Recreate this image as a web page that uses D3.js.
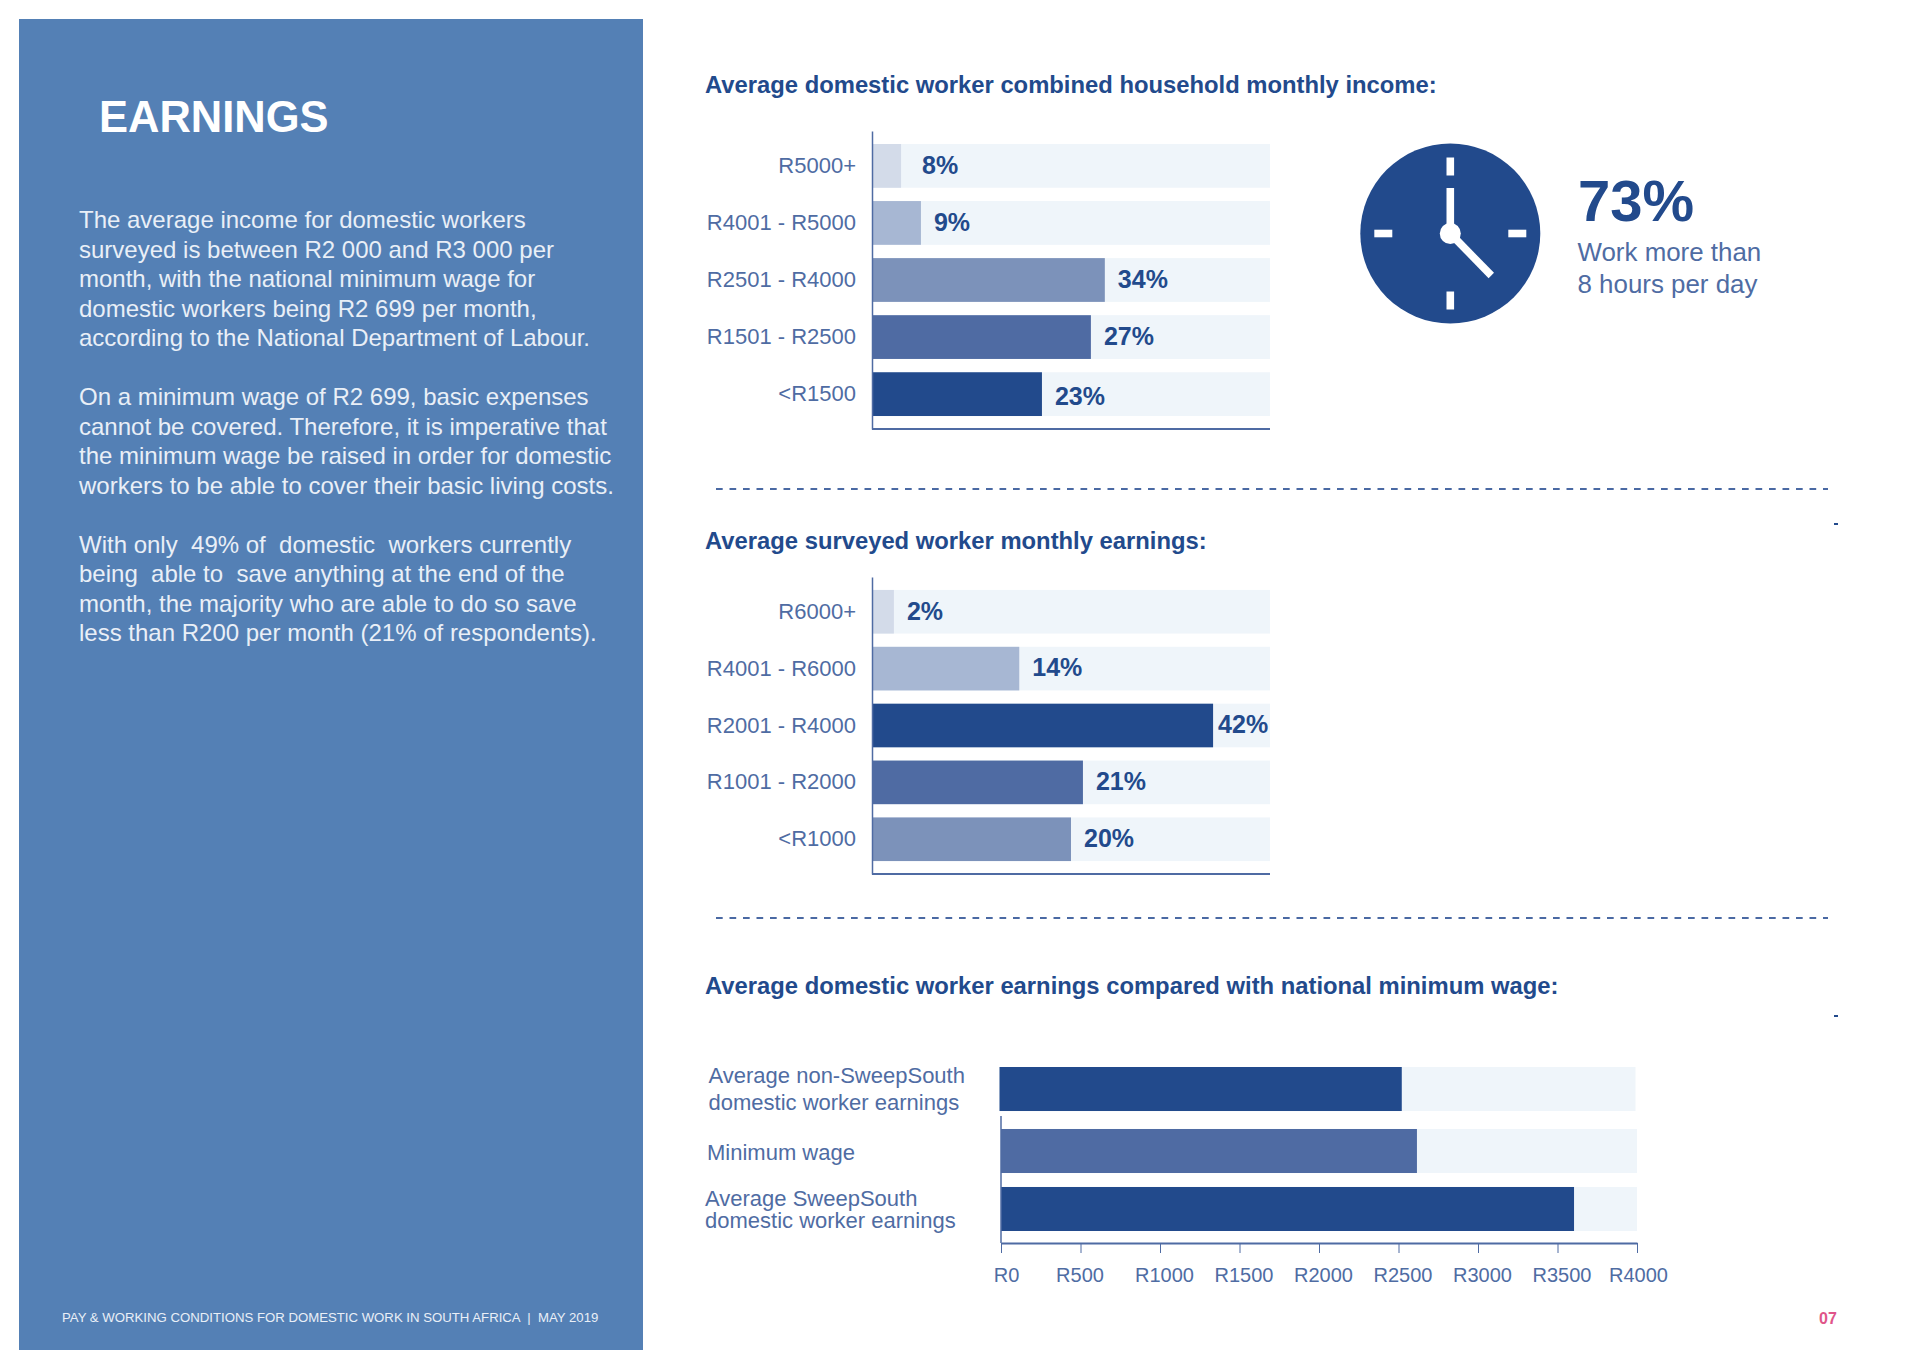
<!DOCTYPE html>
<html>
<head>
<meta charset="utf-8">
<script src="https://d3js.org/d3.v7.min.js"></script>
<style>
  html, body { margin: 0; padding: 0; background: #fff; }
  text { font-family: "Liberation Sans", Arial, sans-serif; white-space: pre; }
  .axis-line path, .axis-line line { stroke: #4f6ba3; }
</style>
</head>
<body>
<svg id="page" width="1920" height="1369"></svg>
<script>
// left panel copy
var panelTitle = "EARNINGS";
var panelLines = [
  ["The average income for domestic workers", "surveyed is between R2 000 and R3 000 per", "month, with the national minimum wage for", "domestic workers being R2 699 per month,", "according to the National Department of Labour."],
  ["On a minimum wage of R2 699, basic expenses", "cannot be covered. Therefore, it is imperative that", "the minimum wage be raised in order for domestic", "workers to be able to cover their basic living costs."],
  ["With only  49% of  domestic  workers currently", "being  able to  save anything at the end of the", "month, the majority who are able to do so save", "less than R200 per month (21% of respondents)."]
];
var footerText = "PAY & WORKING CONDITIONS FOR DOMESTIC WORK IN SOUTH AFRICA  |  MAY 2019";

// household income chart
var householdTitle = "Average domestic worker combined household monthly income:";
var householdCats = ["R5000+", "R4001 - R5000", "R2501 - R4000", "R1501 - R2500", "<R1500"];
var householdLabels = [8, 9, 34, 27, 23];
// the bars in the source don't follow their labels, so lengths are read off
// the picture separately, as % of the pale track
var householdBars = [7.3, 12.3, 58.5, 55, 42.7];
var householdColors = ["#d3dbe9", "#a7b7d3", "#7c92ba", "#4f6ba3", "#224a8c"];

// surveyed worker chart
var surveyedTitle = "Average surveyed worker monthly earnings:";
var surveyedCats = ["R6000+", "R4001 - R6000", "R2001 - R4000", "R1001 - R2000", "<R1000"];
var surveyedLabels = [2, 14, 42, 21, 20];
var surveyedBars = [5.5, 37, 85.7, 53, 50];
var surveyedColors = ["#d3dbe9", "#a7b7d3", "#224a8c", "#4f6ba3", "#7c92ba"];

// wage comparison chart
var wageTitle = "Average domestic worker earnings compared with national minimum wage:";
var wageCats = [["Average non-SweepSouth", "domestic worker earnings"], ["Minimum wage"], ["Average SweepSouth", "domestic worker earnings"]];
var wageValues = [2530, 2616, 3604];
var wageColors = ["#224a8c", "#4f6ba3", "#224a8c"];
var wageTicks = [0, 500, 1000, 1500, 2000, 2500, 3000, 3500, 4000];

// clock call-out
var clockValue = "73%";
var clockLines = ["Work more than", "8 hours per day"];

var DARK = "#224a8c", MID = "#4f6ca3", TRACK = "#eff5fa";
var svg = d3.select("#page");

// --- left panel
svg.append("rect").attr("x", 19).attr("y", 19).attr("width", 624).attr("height", 1331).attr("fill", "#5480b5");
svg.append("text").attr("x", 99).attr("y", 132).attr("fill", "#fff")
  .attr("font-size", 43.5).attr("font-weight", 700).text(panelTitle);

var lineY = 228;
panelLines.forEach(function (para) {
  para.forEach(function (line) {
    svg.append("text").attr("x", 79).attr("y", lineY).attr("fill", "#e9eff7")
      .attr("font-size", 24).text(line);
    lineY += 29.5;
  });
  lineY += 29.5;
});
svg.append("text").attr("x", 62).attr("y", 1322).attr("fill", "#e9eff7")
  .attr("font-size", 13.2).text(footerText);

// --- percent breakdown charts
function drawBreakdown(title, titleY, cats, labels, bars, colors, top, bottom, nudge) {
  svg.append("text").attr("x", 705).attr("y", titleY).attr("fill", DARK)
    .attr("font-size", 23.8).attr("font-weight", 700).text(title);

  var x = d3.scaleLinear().domain([0, 100]).range([872, 1270]);
  var y = d3.scaleBand().domain(cats).range([top, bottom]).paddingInner(0.233).paddingOuter(0.2275);

  var g = svg.append("g");
  g.selectAll(".track").data(cats).join("rect").attr("class", "track")
    .attr("x", x(0)).attr("y", function (d) { return y(d); })
    .attr("width", x(100) - x(0)).attr("height", y.bandwidth()).attr("fill", TRACK);

  g.selectAll(".bar").data(bars).join("rect").attr("class", "bar")
    .attr("x", x(0)).attr("y", function (d, i) { return y(cats[i]); })
    .attr("width", function (d) { return x(d) - x(0); })
    .attr("height", y.bandwidth()).attr("fill", function (d, i) { return colors[i]; });

  g.selectAll(".pct").data(labels).join("text").attr("class", "pct")
    .attr("x", function (d, i) { return x(bars[i]) + 13 + (nudge[i] ? nudge[i][0] : 0); })
    .attr("y", function (d, i) { return y(cats[i]) + y.bandwidth() / 2 + 7.8 + (nudge[i] ? nudge[i][1] : 0); })
    .attr("font-size", 25).attr("font-weight", 700).attr("fill", DARK)
    .text(function (d) { return d + "%"; });

  var left = svg.append("g").attr("class", "axis-line").attr("transform", "translate(" + x(0) + ",0)")
    .call(d3.axisLeft(y).tickSize(0).tickPadding(16));
  left.selectAll("text").attr("font-size", 22).attr("fill", MID).style("font-family", '"Liberation Sans"');
  left.select(".domain").attr("stroke-width", 1.5);

  svg.append("line").attr("x1", x(0)).attr("x2", x(100)).attr("y1", bottom).attr("y2", bottom)
    .attr("stroke", "#4f6ba3").attr("stroke-width", 2);
}

drawBreakdown(householdTitle, 93, householdCats, householdLabels, householdBars, householdColors, 131, 429, { 0: [8, 0], 4: [0, 3] });
drawBreakdown(surveyedTitle, 549, surveyedCats, surveyedLabels, surveyedBars, surveyedColors, 577, 874, { 2: [-8, 0] });

// --- dashed dividers
[489, 918].forEach(function (dy) {
  svg.append("line").attr("x1", 716).attr("x2", 1828).attr("y1", dy).attr("y2", dy)
    .attr("stroke", "#4a69a3").attr("stroke-width", 2).attr("stroke-dasharray", "6.7 6.8");
});

// stray marks in the source
[523, 1015].forEach(function (my) {
  svg.append("rect").attr("x", 1834).attr("y", my).attr("width", 4).attr("height", 2).attr("fill", DARK);
});

// --- clock
var clock = svg.append("g").attr("transform", "translate(1450.3,233.5)");
clock.append("circle").attr("r", 90).attr("fill", DARK);
[0, 90, 180, 270].forEach(function (a) {
  clock.append("line").attr("x1", 0).attr("y1", -58).attr("x2", 0).attr("y2", -76)
    .attr("transform", "rotate(" + a + ")").attr("stroke", "#fff").attr("stroke-width", 7.6);
});
clock.append("line").attr("x1", 0).attr("y1", 0).attr("x2", 0).attr("y2", -45.5).attr("stroke", "#fff").attr("stroke-width", 7.6);
clock.append("line").attr("x1", 0).attr("y1", 0).attr("x2", 41).attr("y2", 42).attr("stroke", "#fff").attr("stroke-width", 7.6);
clock.append("circle").attr("r", 10.5).attr("fill", "#fff");

svg.append("text").attr("x", 1578).attr("y", 221).attr("fill", DARK)
  .attr("font-size", 58).attr("font-weight", 700).text(clockValue);
clockLines.forEach(function (line, i) {
  svg.append("text").attr("x", 1577.5).attr("y", 261 + i * 32).attr("fill", MID)
    .attr("font-size", 25.9).text(line);
});

// --- wage comparison
svg.append("text").attr("x", 705).attr("y", 994).attr("fill", DARK)
  .attr("font-size", 23.8).attr("font-weight", 700).text(wageTitle);

var wageX = d3.scaleLinear().domain([0, 4000]).range([1001, 1637]);
var wageY = d3.scaleBand().domain(d3.range(wageCats.length)).range([1071, 1231]).paddingInner(0.241);

// first row sits a little off the other two in the source
var wageRows = svg.selectAll(".wage-row").data(wageValues).join("g").attr("class", "wage-row")
  .attr("transform", function (d, i) { return i === 0 ? "translate(-1.5,-4)" : null; });
wageRows.append("rect").attr("x", wageX(0)).attr("y", function (d, i) { return wageY(i); })
  .attr("width", wageX(4000) - wageX(0)).attr("height", wageY.bandwidth()).attr("fill", TRACK);
wageRows.append("rect").attr("x", wageX(0)).attr("y", function (d, i) { return wageY(i); })
  .attr("width", function (d) { return wageX(d) - wageX(0); }).attr("height", wageY.bandwidth())
  .attr("fill", function (d, i) { return wageColors[i]; });

var wageLabelX = [708.5, 707, 705];
var wageLabelY = [[1083, 1110], [1160], [1206, 1228]];
wageCats.forEach(function (lines, i) {
  lines.forEach(function (line, j) {
    svg.append("text").attr("x", wageLabelX[i]).attr("y", wageLabelY[i][j]).attr("fill", MID)
      .attr("font-size", 22).text(line);
  });
});

svg.append("line").attr("x1", wageX(0)).attr("x2", wageX(0)).attr("y1", 1116).attr("y2", 1243)
  .attr("stroke", "#4f6ba3").attr("stroke-width", 1.5);
var wageAxis = svg.append("g").attr("class", "axis-line").attr("transform", "translate(0,1243)")
  .call(d3.axisBottom(wageX).tickValues(wageTicks).tickSize(10).tickSizeOuter(0).tickPadding(15)
    .tickFormat(function (d) { return "R" + d; }));
wageAxis.select(".domain").attr("stroke-width", 2);
wageAxis.selectAll("text").attr("font-size", 20).attr("fill", MID).style("font-family", '"Liberation Sans"')
  .attr("dx", function (d) { return d === 0 ? 5 : d === 500 ? -1 : d === 4000 ? 1 : 4; });

// page number
svg.append("text").attr("x", 1828).attr("y", 1324).attr("text-anchor", "middle")
  .attr("fill", "#e0558a").attr("font-size", 16).attr("font-weight", 700).text("07");
</script>
</body>
</html>
